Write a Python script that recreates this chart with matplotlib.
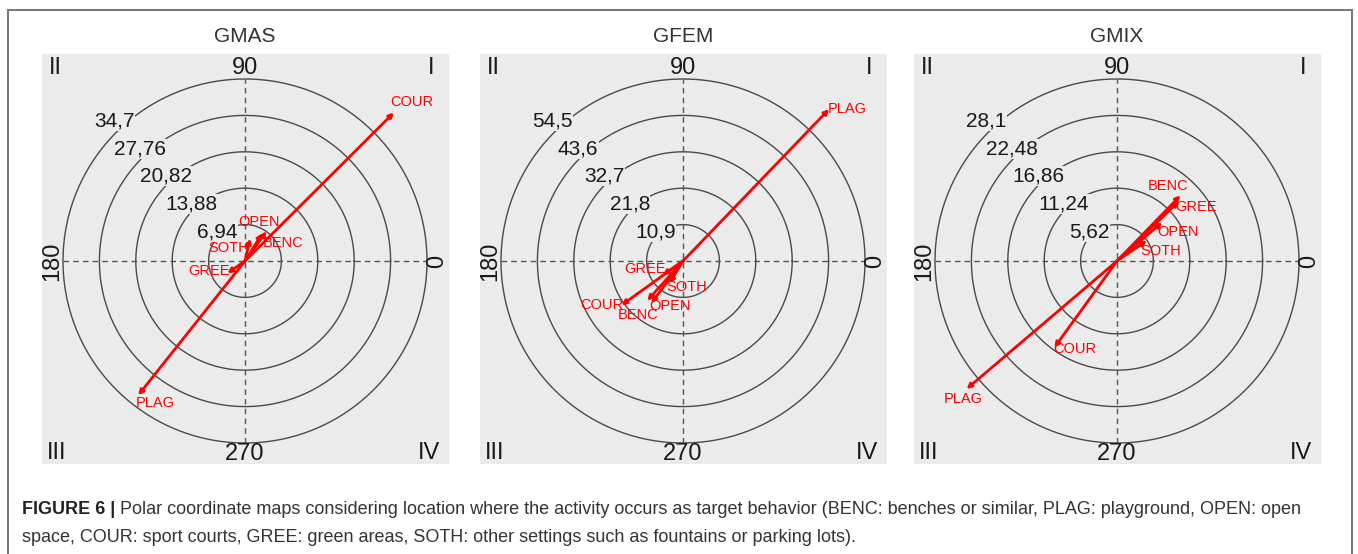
#!/usr/bin/env python3
"""Polar coordinate maps (GMAS, GFEM, GMIX) - location as target behavior."""

import numpy as np
import matplotlib
matplotlib.use("Agg")
import matplotlib.pyplot as plt
from matplotlib.patches import Rectangle

# ---- data ---------------------------------------------------------------
groups = ["GMAS", "GFEM", "GMIX"]
ring_max = [34.7, 54.5, 28.1]          # outer ring value of each map
codes = ["BENC", "PLAG", "OPEN", "COUR", "GREE", "SOTH"]

gmas_radius = [7.0, 32.7, 6.2, 40.1, 4.1, 4.4]
gmas_angle = [54.0, 231.5, 58.0, 44.9, 215.0, 77.0]
gfem_radius = [16.0, 63.1, 15.8, 22.7, 7.4, 7.8]
gfem_angle = [228.0, 46.1, 233.0, 215.7, 215.0, 239.0]
gmix_radius = [14.1, 30.5, 9.2, 16.5, 13.3, 5.6]
gmix_angle = [45.9, 220.4, 40.6, 234.1, 44.0, 34.4]

radii = [gmas_radius, gfem_radius, gmix_radius]
angles = [gmas_angle, gfem_angle, gmix_angle]

# label offsets from arrow tips (pixels, y up) - layout only
label_offsets = [
    {"BENC": (16, -12), "PLAG": (17, -8), "OPEN": (-3, 11),
     "COUR": (18, 11), "GREE": (-18, 2), "SOTH": (-21, -9)},
    {"BENC": (-9, -14), "PLAG": (18, 0), "OPEN": (19, -3),
     "COUR": (-20, 0), "GREE": (-18, 6), "SOTH": (17, -4)},
    {"BENC": (-12, 9), "PLAG": (-3, -10), "OPEN": (16, -10),
     "COUR": (20, -1), "GREE": (17, -6), "SOTH": (14, -10)},
]

# ---- style --------------------------------------------------------------
W, H = 1358, 554
BG = "#ebebeb"
RING = "#4a4a4a"
DARK = "#1a1a1a"
RED = "#ff0000"
plt.rcParams["font.family"] = ["Liberation Sans", "DejaVu Sans"]

fig = plt.figure(figsize=(W / 100, H / 100), dpi=100)

centers_x = [245, 683, 1117]
center_y = 261
R = 182.0  # outer ring radius in pixels

for i, grp in enumerate(groups):
    cx = centers_x[i]
    m = ring_max[i]
    x0, x1 = cx - 203, cx + 204
    y0, y1 = 54, 464
    ax = fig.add_axes([x0 / W, 1 - y1 / H, (x1 - x0) / W, (y1 - y0) / H])
    ax.set_facecolor(BG)
    ax.set_xlim(-203 / R * m, 204 / R * m)
    ax.set_ylim(-(y1 - center_y) / R * m, (center_y - y0) / R * m)
    for s in ax.spines.values():
        s.set_visible(False)
    ax.set_xticks([])
    ax.set_yticks([])

    # rings
    t = np.linspace(0, 2 * np.pi, 400)
    rings = [m * k / 5 for k in range(1, 6)]
    for r in rings:
        ax.plot(r * np.cos(t), r * np.sin(t), color=RING, lw=1.0, zorder=1)

    # dashed axes
    ax.plot([-m, m], [0, 0], color="#555555", lw=1.0, ls=(0, (4, 3)), zorder=1)
    ax.plot([0, 0], [-m, m], color="#555555", lw=1.0, ls=(0, (4, 3)), zorder=1)

    # ring labels
    a = np.deg2rad(133)
    for k, r in enumerate(rings):
        lbl = f"{round(r, 2):g}".replace(".", ",")
        rr = r + (0.02 + 0.008 * k) * m
        ax.text(rr * np.cos(a), rr * np.sin(a), lbl, ha="center", va="center",
                fontsize=15, color=DARK, zorder=2,
                bbox=dict(facecolor=BG, edgecolor="none", pad=0.3))

    # angle labels
    d = 1.058 * m
    ax.text(0, d, "90", ha="center", va="center", fontsize=17, color=DARK)
    ax.text(0, -d, "270", ha="center", va="center", fontsize=17, color=DARK)
    ax.text(-d, 0, "180", ha="center", va="center", fontsize=17,
            rotation=90, color=DARK)
    ax.text(d, 0, "0", ha="center", va="center", fontsize=17,
            rotation=90, color=DARK)

    # quadrant numerals
    ax.text(0.032, 0.966, "II", transform=ax.transAxes, ha="center",
            va="center", fontsize=17, color=DARK)
    ax.text(0.955, 0.966, "I", transform=ax.transAxes, ha="center",
            va="center", fontsize=17, color=DARK)
    ax.text(0.037, 0.027, "III", transform=ax.transAxes, ha="center",
            va="center", fontsize=17, color=DARK)
    ax.text(0.952, 0.027, "IV", transform=ax.transAxes, ha="center",
            va="center", fontsize=17, color=DARK)

    # vectors
    for code, r, ang in zip(codes, radii[i], angles[i]):
        th = np.deg2rad(ang)
        x, y = r * np.cos(th), r * np.sin(th)
        ax.annotate("", xy=(x, y), xytext=(0, 0), zorder=4,
                    arrowprops=dict(arrowstyle="-|>", color=RED, lw=2.0,
                                    mutation_scale=7, shrinkA=0, shrinkB=0))
        ax.annotate(code, xy=(x, y), xytext=label_offsets[i][code],
                    textcoords="offset pixels", ha="center", va="center",
                    color=RED, fontsize=10.5, zorder=5)

    fig.text(cx / W, 1 - 36 / H, grp, ha="center", va="center",
             fontsize=15, color="#333333")

# outer frame (bottom edge falls outside the image)
fig.patches.append(Rectangle((8 / W, -0.05), (1352 - 8) / W, 1 - 10 / H + 0.05,
                             transform=fig.transFigure, fill=False,
                             edgecolor="#7a7a7a", lw=1.5))

# caption
renderer = fig.canvas.get_renderer()
head = fig.text(22 / W, 1 - 510 / H, "FIGURE 6 |", fontsize=13,
                fontweight="bold", color="#222222", va="center")
bb = head.get_window_extent(renderer)
fig.text((bb.x1 + 5) / W, 1 - 510 / H,
         "Polar coordinate maps considering location where the activity occurs "
         "as target behavior (BENC: benches or similar, PLAG: playground, OPEN: open",
         fontsize=13, color="#333333", va="center")
fig.text(22 / W, 1 - 537 / H,
         "space, COUR: sport courts, GREE: green areas, SOTH: other settings such "
         "as fountains or parking lots).",
         fontsize=13, color="#333333", va="center")

fig.savefig("out.png", dpi=100, facecolor="white")
